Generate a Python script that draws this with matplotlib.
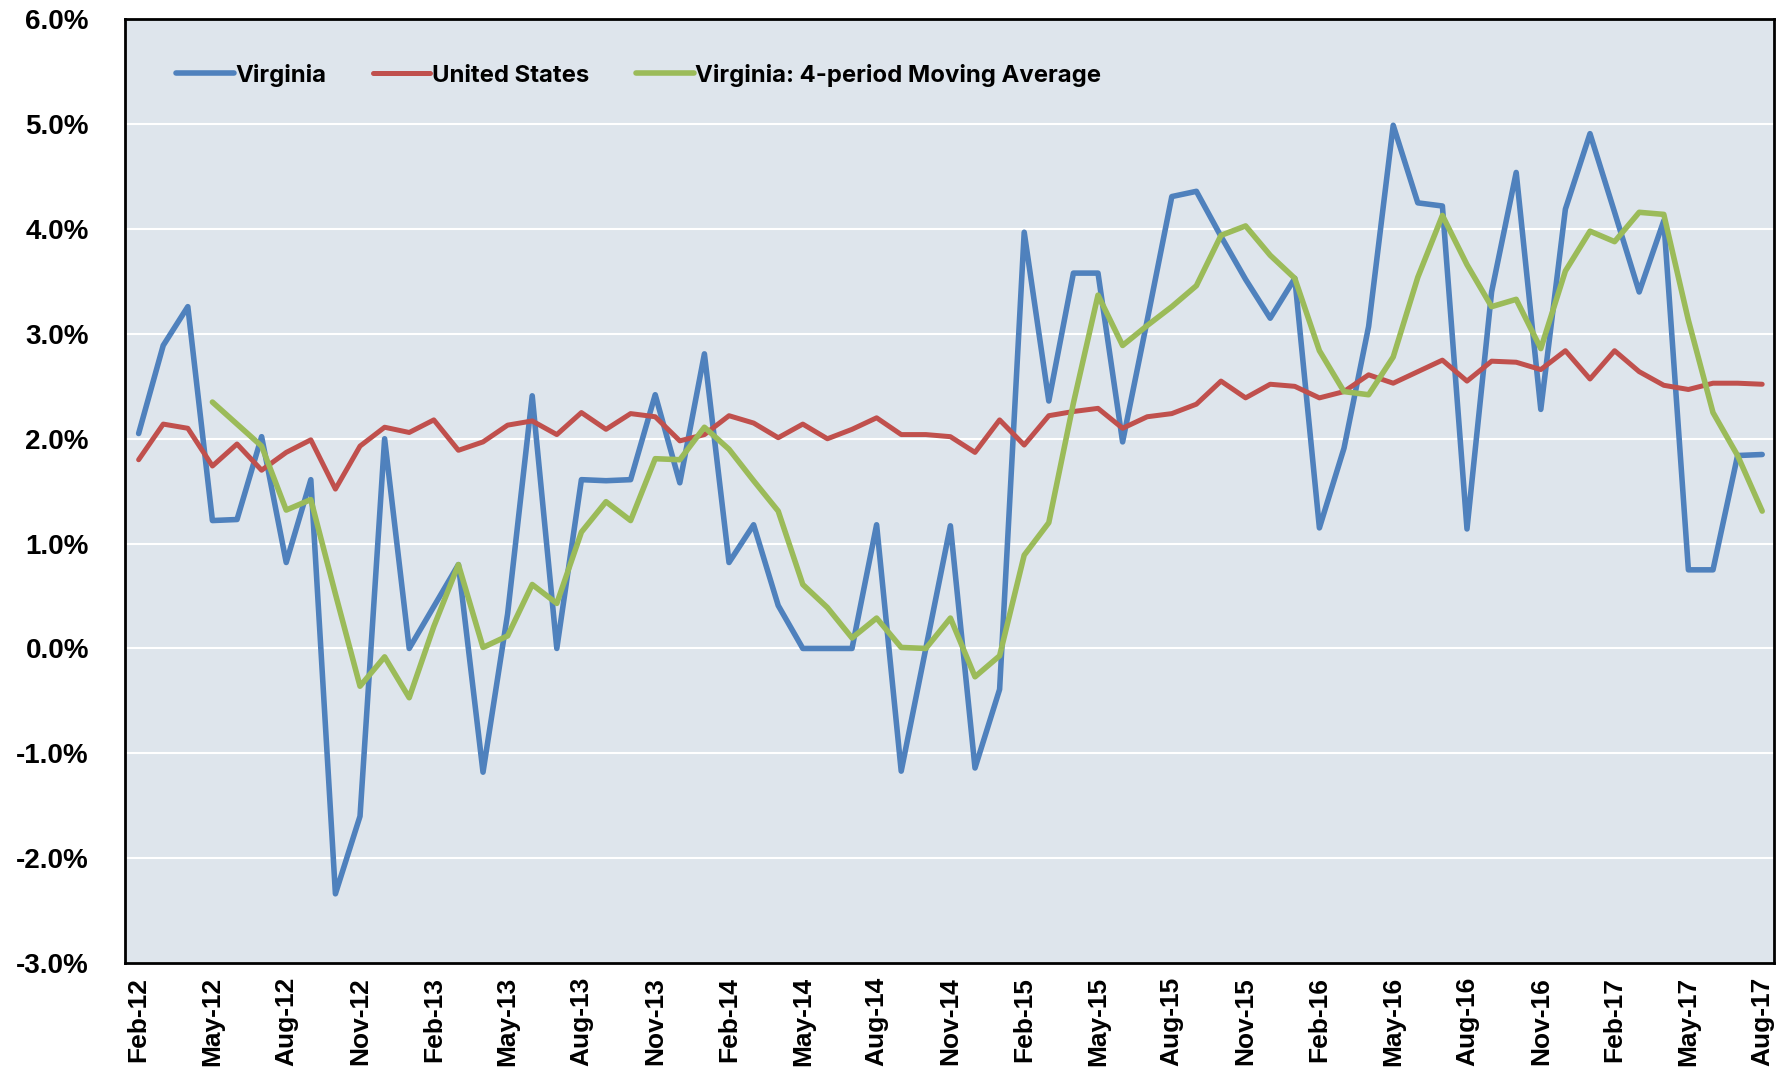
import matplotlib
matplotlib.use("Agg")
import matplotlib.pyplot as plt
import numpy as np

# monthly, Feb-12 .. Aug-17
months = ["Feb-12", "Mar-12", "Apr-12", "May-12", "Jun-12", "Jul-12", "Aug-12", "Sep-12", "Oct-12", "Nov-12", "Dec-12",
          "Jan-13", "Feb-13", "Mar-13", "Apr-13", "May-13", "Jun-13", "Jul-13", "Aug-13", "Sep-13", "Oct-13", "Nov-13", "Dec-13",
          "Jan-14", "Feb-14", "Mar-14", "Apr-14", "May-14", "Jun-14", "Jul-14", "Aug-14", "Sep-14", "Oct-14", "Nov-14", "Dec-14",
          "Jan-15", "Feb-15", "Mar-15", "Apr-15", "May-15", "Jun-15", "Jul-15", "Aug-15", "Sep-15", "Oct-15", "Nov-15", "Dec-15",
          "Jan-16", "Feb-16", "Mar-16", "Apr-16", "May-16", "Jun-16", "Jul-16", "Aug-16", "Sep-16", "Oct-16", "Nov-16", "Dec-16",
          "Jan-17", "Feb-17", "Mar-17", "Apr-17", "May-17", "Jun-17", "Jul-17", "Aug-17"]

virginia = [2.05, 2.89, 3.26, 1.22, 1.23, 2.02, 0.82, 1.61, -2.34, -1.60, 2.00,
            0.0, 0.40, 0.80, -1.18, 0.33, 2.41, 0.0, 1.61, 1.60, 1.61, 2.42, 1.58,
            2.81, 0.82, 1.18, 0.41, 0.0, 0.0, 0.0, 1.18, -1.17, 0.0, 1.17, -1.14,
            -0.39, 3.97, 2.36, 3.58, 3.58, 1.97, 3.13, 4.31, 4.36, 3.93, 3.52, 3.15,
            3.53, 1.15, 1.91, 3.07, 4.99, 4.25, 4.22, 1.14, 3.40, 4.54, 2.28, 4.19,
            4.91, 4.16, 3.40, 4.08, 0.75, 0.75, 1.84, 1.85]

united_states = [1.80, 2.14, 2.10, 1.74, 1.95, 1.70, 1.87, 1.99, 1.52, 1.93, 2.11,
                 2.06, 2.18, 1.89, 1.97, 2.13, 2.17, 2.04, 2.25, 2.09, 2.24, 2.21, 1.98,
                 2.04, 2.22, 2.15, 2.01, 2.14, 2.00, 2.09, 2.20, 2.04, 2.04, 2.02, 1.87,
                 2.18, 1.94, 2.22, 2.26, 2.29, 2.10, 2.21, 2.24, 2.33, 2.55, 2.39, 2.52,
                 2.50, 2.39, 2.45, 2.61, 2.53, 2.64, 2.75, 2.55, 2.74, 2.73, 2.66, 2.84,
                 2.57, 2.84, 2.64, 2.51, 2.47, 2.53, 2.53, 2.52]

# moving average starts at May-12
va_ma = [np.nan, np.nan, np.nan, 2.35, 2.14, 1.93, 1.32, 1.42, 0.52, -0.36, -0.08,
         -0.47, 0.21, 0.80, 0.01, 0.12, 0.61, 0.43, 1.11, 1.40, 1.22, 1.81, 1.80,
         2.11, 1.90, 1.60, 1.31, 0.61, 0.39, 0.10, 0.29, 0.01, 0.0, 0.29, -0.27,
         -0.07, 0.89, 1.20, 2.34, 3.37, 2.89, 3.08, 3.26, 3.46, 3.94, 4.03, 3.75,
         3.53, 2.84, 2.45, 2.42, 2.78, 3.54, 4.13, 3.66, 3.26, 3.33, 2.86, 3.60,
         3.98, 3.88, 4.16, 4.14, 3.13, 2.25, 1.84, 1.31]

x = np.arange(len(months))

fig = plt.figure(figsize=(17.87, 10.76), dpi=100)
ax = fig.add_axes([0.070, 0.105, 0.923, 0.877])
ax.set_facecolor('#dee5ec')

ax.plot(x, virginia, color='#4f81bd', lw=4, label='Virginia', solid_capstyle='round')
ax.plot(x, united_states, color='#c0504d', lw=3.6, label='United States', solid_capstyle='round')
ax.plot(x, va_ma, color='#9bbb59', lw=4, label='Virginia: 4-period Moving Average', solid_capstyle='round')

ax.set_xlim(-0.55, len(months) - 1 + 0.5)
ax.set_ylim(-3, 6)
ax.set_yticks(np.arange(-3, 7, 1))
ax.set_yticklabels(['%.1f%%' % v for v in np.arange(-3, 7, 1)],
                   fontsize=20, fontweight='bold', family='Liberation Sans')
ax.set_xticks(x[::3])
ax.set_xticklabels(months[::3], rotation=90, fontsize=19, fontweight='bold', family='Liberation Sans')
ax.tick_params(axis='x', length=0, pad=10)
ax.tick_params(axis='y', length=0, pad=26)

ax.grid(axis='y', color='white', lw=1.5)
ax.set_axisbelow(True)
for s in ax.spines.values():
    s.set_color('black')
    s.set_linewidth(2)

ax.legend(loc='upper left', ncol=3, frameon=False, bbox_to_anchor=(0.018, 0.976),
          handlelength=2.4, handletextpad=0.08, columnspacing=1.95,
          prop={'family': 'Inter', 'weight': 'bold', 'size': 17.2})

plt.savefig('out.png', dpi=100)
